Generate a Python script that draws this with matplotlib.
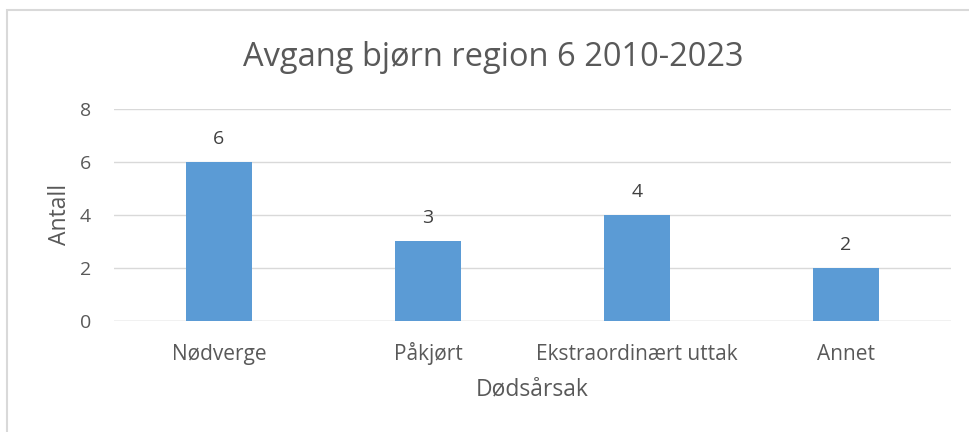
import matplotlib.pyplot as plt
from matplotlib.patches import Rectangle

categories = ["Nødverge", "Påkjørt", "Ekstraordinært uttak", "Annet"]
values = [6, 3, 4, 2]
y_ticks = [0, 2, 4, 6, 8]

plt.rcParams['font.family'] = ['Open Sans', 'DejaVu Sans']
text_color = '#595959'

fig = plt.figure(figsize=(9.7, 4.32), dpi=100)
ax = fig.add_axes([0.118, 0.257, 0.862, 0.491])

x = range(len(categories))
bars = ax.bar(x, values, width=0.316, color='#5B9BD5', zorder=3)
for b, v in zip(bars, values):
    ax.text(b.get_x() + b.get_width() / 2, v + 0.68, str(v), ha='center', va='baseline',
            fontsize=14, color='#404040')

ax.set_xlim(-0.5, len(categories) - 0.5)
ax.set_ylim(0, 8)
ax.set_yticks(y_ticks)
ax.set_xticks(list(x))
ax.set_xticklabels(categories, va='baseline')
ax.tick_params(axis='x', length=0, labelsize=15, colors=text_color, pad=28)
ax.tick_params(axis='y', length=0, labelsize=14, colors=text_color, pad=17)
ax.grid(axis='y', color='#D9D9D9', linewidth=1, zorder=0)
for s in ax.spines.values():
    s.set_visible(False)
ax.axhline(0, color='#D9D9D9', linewidth=1, zorder=1)

ax.set_xlabel("Dødsårsak", fontsize=16.5, color=text_color, va='center')
ax.xaxis.set_label_coords(0.5, -0.325)
ax.set_ylabel("Antall", fontsize=16.5, color=text_color, va='center')
ax.yaxis.set_label_coords(-0.065, 0.5)
fig.text(0.509, 0.866, "Avgang bjørn region 6 2010-2023", ha='center', va='center',
         fontsize=23.5, color=text_color)

# chart frame, cropped on the right and bottom edges in the original
fig.patches.append(Rectangle((0.0068, -0.02), 1.02, 0.996, transform=fig.transFigure,
                             fill=False, edgecolor='#D9D9D9', linewidth=1.5))

fig.savefig('out.png', dpi=100)
